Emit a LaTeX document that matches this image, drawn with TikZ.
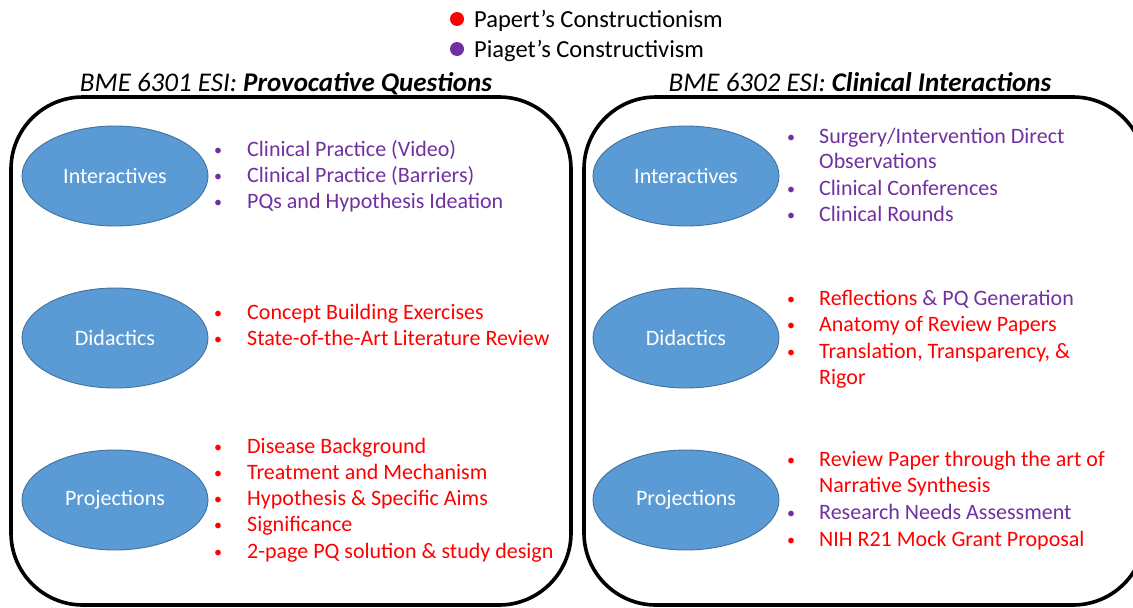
\documentclass[tikz,border=0pt]{standalone}
\usepackage{fontspec}
\setmainfont{Carlito}
\usetikzlibrary{shapes.geometric}
\definecolor{pred}{HTML}{FF0000}
\definecolor{ppur}{HTML}{7030A0}
\definecolor{efill}{HTML}{5B9BD5}
\definecolor{edraw}{HTML}{41719C}
\tikzset{
  frame/.style={draw=black, line width=3.6pt, rounded corners=72pt},
  oval/.style={ellipse, fill=efill, draw=edraw, line width=0.9pt, minimum width=186pt, minimum height=100pt, inner sep=0pt, text=white, font=\fontsize{22}{26}\selectfont},
  item/.style={anchor=base west, inner sep=0pt, font=\fontsize{22}{26}\selectfont},
  bul/.style={anchor=base, inner sep=0pt, font=\fontsize{16}{20}\selectfont},
  ttl/.style={anchor=base, inner sep=0pt, font=\fontsize{27}{31}\selectfont\itshape},
  legdot/.style={circle, inner sep=0pt, minimum size=14pt},
  legtxt/.style={anchor=base west, inner sep=0pt, font=\fontsize{24.5}{28}\selectfont}
}
\begin{document}
\begin{tikzpicture}[x=1pt, y=-1pt]
\useasboundingbox (0,0) rectangle (1133,608);
\clip (0,0) rectangle (1133,608);
% legend
\node[legdot, fill=pred] (d1) at (457,19) {};
\node[legtxt] (l1) at (474,27) {Papert’s Constructionism};
\node[legdot, fill=ppur] (d2) at (457,49) {};
\node[legtxt] (l2) at (474,57) {Piaget’s Constructivism};
% titles
\node[ttl] (t1) at (286,91) {BME 6301 ESI: \textbf{Provocative Questions}};
\node[ttl] (t2) at (860,91) {BME 6302 ESI: \textbf{Clinical Interactions}};
% frames
\draw[frame] (11,97) rectangle (571,605);
\draw[frame] (584,97) rectangle (1145,605);
% left ovals
\node[oval] (li) at (115,176) {Interactives};
\node[oval] (ld) at (115,338) {Didactics};
\node[oval] (lp) at (115,500) {Projections};
% right ovals
\node[oval] (ri) at (686,176) {Interactives};
\node[oval] (rd) at (686,338) {Didactics};
\node[oval] (rp) at (686,500) {Projections};
% left interactives
\node[bul, text=ppur] (b1) at (218,155) {•};
\node[item, text=ppur] (a1) at (247,156) {Clinical Practice (Video)};
\node[bul, text=ppur] (b2) at (218,181) {•};
\node[item, text=ppur] (a2) at (247,182) {Clinical Practice (Barriers)};
\node[bul, text=ppur] (b3) at (218,207) {•};
\node[item, text=ppur] (a3) at (247,208) {PQs and Hypothesis Ideation};
% left didactics
\node[bul, text=pred] (b4) at (218,318) {•};
\node[item, text=pred] (a4) at (247,319) {Concept Building Exercises};
\node[bul, text=pred] (b5) at (218,344) {•};
\node[item, text=pred] (a5) at (247,345) {State-of-the-Art Literature Review};
% left projections
\node[bul, text=pred] (b6) at (218,452) {•};
\node[item, text=pred] (a6) at (247,453) {Disease Background};
\node[bul, text=pred] (b7) at (218,478) {•};
\node[item, text=pred] (a7) at (247,479) {Treatment and Mechanism};
\node[bul, text=pred] (b8) at (218,504) {•};
\node[item, text=pred] (a8) at (247,505) {Hypothesis \& Specific Aims};
\node[bul, text=pred] (b9) at (218,530) {•};
\node[item, text=pred] (a9) at (247,531) {Significance};
\node[bul, text=pred] (b10) at (218,557) {•};
\node[item, text=pred] (a10) at (247,558) {2-page PQ solution \& study design};
% right interactives
\node[bul, text=ppur] (c1) at (791,142) {•};
\node[item, text=ppur] (e1) at (819,143) {Surgery/Intervention Direct};
\node[item, text=ppur] (e1b) at (819,168) {Observations};
\node[bul, text=ppur] (c2) at (791,194) {•};
\node[item, text=ppur] (e2) at (819,195) {Clinical Conferences};
\node[bul, text=ppur] (c3) at (791,220) {•};
\node[item, text=ppur] (e3) at (819,221) {Clinical Rounds};
% right didactics
\node[bul, text=pred] (c4) at (791,304) {•};
\node[item] (e4) at (819,305) {\textcolor{pred}{Reflections} \textcolor{ppur}{\& PQ Generation}};
\node[bul, text=pred] (c5) at (791,330) {•};
\node[item, text=pred] (e5) at (819,331) {Anatomy of Review Papers};
\node[bul, text=pred] (c6) at (791,357) {•};
\node[item, text=pred] (e6) at (819,358) {Translation, Transparency, \&};
\node[item, text=pred] (e6b) at (819,384) {Rigor};
% right projections
\node[bul, text=pred] (c7) at (791,465) {•};
\node[item, text=pred] (e7) at (819,466) {Review Paper through the art of};
\node[item, text=pred] (e7b) at (819,492) {Narrative Synthesis};
\node[bul, text=ppur] (c8) at (791,518) {•};
\node[item, text=ppur] (e8) at (819,519) {Research Needs Assessment};
\node[bul, text=pred] (c9) at (791,545) {•};
\node[item, text=pred] (e9) at (819,546) {NIH R21 Mock Grant Proposal};
\end{tikzpicture}
\end{document}
